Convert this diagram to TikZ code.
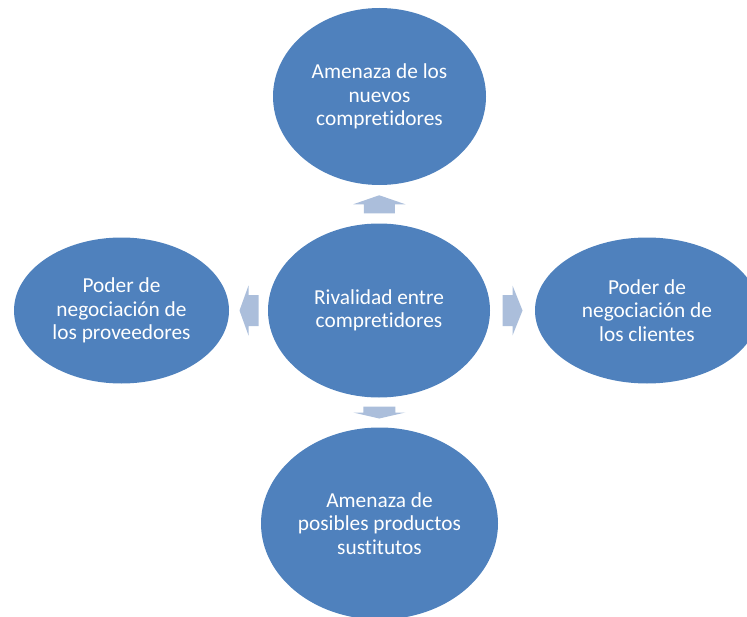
\documentclass[tikz,border=0pt]{standalone}
\usepackage{fontspec}
\setmainfont{Carlito}[Ligatures={NoCommon}]
\usetikzlibrary{shapes.geometric,calc}
\definecolor{ellblue}{HTML}{4F81BD}
\definecolor{arrblue}{HTML}{ABBEDB}
\begin{document}
\begin{tikzpicture}[x=0.75pt,y=-0.75pt,
  bubble/.style={ellipse, fill=ellblue, draw=none, inner sep=0pt, text=white, align=center, font=\fontsize{16}{17.6}\selectfont},
  blockarrow/.style={fill=arrblue, draw=none}]
\useasboundingbox (0,0) rectangle (747,617);
\clip (0,0) rectangle (747,617);
\node[bubble, minimum width={213*0.75pt}, minimum height={177*0.75pt}] (t) at (379.5,96.5) {Amenaza de los\\nuevos\\compretidores};
\node[bubble, minimum width={222*0.75pt}, minimum height={174*0.75pt}] (c) at (379,310.5) {Rivalidad entre\\compretidores};
\node[bubble, minimum width={215*0.75pt}, minimum height={146*0.75pt}] (l) at (121.5,310.5) {Poder de\\negociación de\\los proveedores};
\node[bubble, minimum width={224*0.75pt}, minimum height={146*0.75pt}] (r) at (647,310.5) {Poder de\\negociación de\\los clientes};
\node[bubble, minimum width={237*0.75pt}, minimum height={192*0.75pt}] (b) at (379.5,523.5) {Amenaza de\\posibles productos\\sustitutos};
\coordinate (ua) at ($(c.north)!0.5!(t.south)$);
\coordinate (da) at ($(c.south)!0.5!(b.north)$);
\coordinate (la) at ($(c.west)!0.5!(l.east)$);
\coordinate (ra) at ($(c.east)!0.5!(r.west)$);
\fill[blockarrow, shift={(ua)}] (-15.5,9) -- (15.5,9) -- (15.5,0) -- (26,0) -- (0,-9) -- (-26,0) -- (-15.5,0) -- cycle;
\fill[blockarrow, shift={(da)}] (-16,-6) -- (16,-6) -- (16,0) -- (26,0) -- (0,6) -- (-26,0) -- (-16,0) -- cycle;
\fill[blockarrow, shift={(la)}] (10,-15.5) -- (10,15.5) -- (0,15.5) -- (0,25) -- (-9,0) -- (0,-25) -- (0,-15.5) -- cycle;
\fill[blockarrow, shift={(ra)}] (-10,-15.5) -- (-10,15.5) -- (0,15.5) -- (0,25) -- (10,0) -- (0,-25) -- (0,-15.5) -- cycle;
\end{tikzpicture}
\end{document}
